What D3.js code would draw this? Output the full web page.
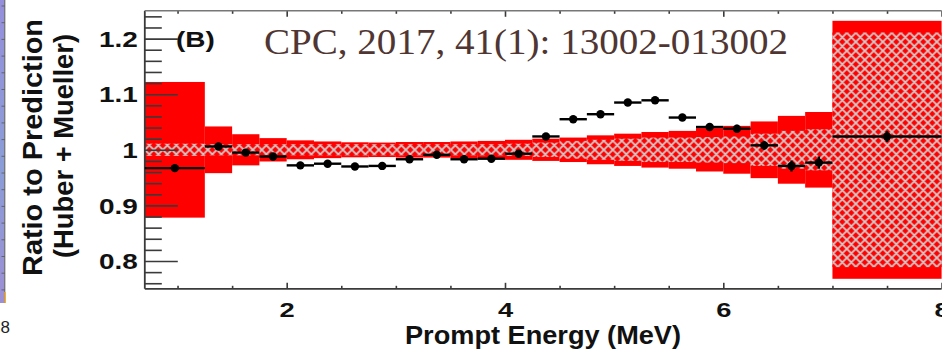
<!DOCTYPE html>
<html><head><meta charset="utf-8">
<script src="https://cdn.jsdelivr.net/npm/d3@7/dist/d3.min.js"></script>
<style>
html,body{margin:0;padding:0;background:#fff;overflow:hidden;}
svg{display:block;}
</style></head><body>
<svg id="chart" width="942" height="351"></svg>
<script>
// Prompt-energy bin edges (MeV)
const binEdges = [0.7, 1.25, 1.5, 1.75, 2.0, 2.25, 2.5, 2.75, 3.0, 3.25, 3.5, 3.75, 4.0,
                  4.25, 4.5, 4.75, 5.0, 5.25, 5.5, 5.75, 6.0, 6.25, 6.5, 6.75, 7.0, 8.0];
// Measured ratio to the Huber + Mueller prediction, one per bin
const ratio = [0.967, 1.006, 0.995, 0.988, 0.972, 0.975, 0.970, 0.971, 0.983, 0.991, 0.983, 0.984,
               0.993, 1.024, 1.055, 1.064, 1.085, 1.089, 1.058, 1.041, 1.038, 1.008, 0.971, 0.977, 1.024];
// Statistical uncertainty of each point
const statErr = [0.006, 0.005, 0.004, 0.004, 0.004, 0.004, 0.004, 0.004, 0.004, 0.004, 0.004, 0.004,
                 0.005, 0.005, 0.005, 0.005, 0.006, 0.006, 0.006, 0.007, 0.007, 0.008, 0.010, 0.011, 0.010];
// Total model uncertainty (solid band, half width)
const modelErr = [0.122, 0.042, 0.028, 0.021, 0.017, 0.015, 0.0135, 0.013, 0.014, 0.014, 0.015, 0.016,
                  0.018, 0.020, 0.022, 0.026, 0.029, 0.032, 0.034, 0.039, 0.043, 0.051, 0.061, 0.068, 0.232];
// Reactor-related part of the uncertainty (hatched band, half width)
const reactorErr = [0.011, 0.010, 0.010, 0.010, 0.010, 0.010, 0.010, 0.010, 0.010, 0.010, 0.010, 0.010,
                    0.011, 0.013, 0.016, 0.018, 0.020, 0.022, 0.022, 0.023, 0.024, 0.029, 0.034, 0.037, 0.211];
// Axis ticks
const xMajorTicks = [2, 4, 6, 8];
const xMinorTicks = [1, 1.5, 2.5, 3, 3.5, 4.5, 5, 5.5, 6.5, 7, 7.5];
const yMajorTicks = [0.8, 0.9, 1.0, 1.1, 1.2];
const yMinorTicks = [0.76, 0.78, 0.82, 0.84, 0.86, 0.88, 0.92, 0.94, 0.96, 0.98, 1.02, 1.04, 1.06, 1.08,
                     1.12, 1.14, 1.16, 1.18, 1.22, 1.24];
const yTickLabels = {0.8: "0.8", 0.9: "0.9", 1.0: "1", 1.1: "1.1", 1.2: "1.2"};

const svg = d3.select("#chart");
const x = d3.scaleLinear().domain([0.7, 8]).range([144.8, 941.6]);
const y = d3.scaleLinear().domain([0.75, 1.25]).range([288.8, 10.8]);

const bins = ratio.map((r, i) => ({
  lo: binEdges[i], hi: binEdges[i + 1], mid: (binEdges[i] + binEdges[i + 1]) / 2,
  r, stat: statErr[i], model: modelErr[i], reactor: reactorErr[i]
}));

// Cross-hatch fill
const defs = svg.append("defs");
const pat = defs.append("pattern").attr("id", "xhatch")
  .attr("patternUnits", "userSpaceOnUse").attr("width", 9).attr("height", 9)
  .attr("patternTransform", `translate(${x(0.7)},${y(1.0)})`);
pat.append("rect").attr("width", 9).attr("height", 9).attr("fill", "#ff0000");
pat.append("path")
  .attr("d", "M-2,2 L2,-2 M0,9 L9,0 M7,11 L11,7 M-2,7 L2,11 M0,0 L9,9 M7,-2 L11,2")
  .attr("stroke", "#d2cbcb").attr("stroke-width", 1.8).attr("fill", "none");

// Left-edge strip of the neighbouring panel
const grad = defs.append("linearGradient").attr("id", "strip").attr("x1", 0).attr("x2", 0).attr("y1", 0).attr("y2", 1);
grad.append("stop").attr("offset", "0%").attr("stop-color", "#968fdb");
grad.append("stop").attr("offset", "55%").attr("stop-color", "#8a9dd6");
grad.append("stop").attr("offset", "100%").attr("stop-color", "#9c8fd4");
svg.append("rect").attr("x", 0).attr("y", 0).attr("width", 4.5).attr("height", 303).attr("fill", "url(#strip)");
svg.append("line").attr("x1", 4.8).attr("x2", 4.8).attr("y1", 0).attr("y2", 303).attr("stroke", "#555").attr("stroke-width", 1);
svg.append("g").selectAll("line").data(d3.range(18)).join("line")
  .attr("x1", 1.5).attr("x2", 4.8).attr("y1", i => 6 + i * 16.7).attr("y2", i => 6 + i * 16.7)
  .attr("stroke", "#555").attr("stroke-width", 0.8);
svg.append("line").attr("x1", 4.8).attr("x2", 4.8).attr("y1", 292).attr("y2", 303).attr("stroke", "#e09a2a").attr("stroke-width", 1.5);
svg.append("text").attr("x", 0.5).attr("y", 333).attr("text-anchor", "start")
  .attr("font-family", "Liberation Sans, Arial, sans-serif").attr("font-size", 17).attr("fill", "#222").text("8");

// Solid model-uncertainty band
svg.append("g").selectAll("rect").data(bins).join("rect")
  .attr("x", d => x(d.lo)).attr("width", d => x(d.hi) - x(d.lo))
  .attr("y", d => y(1 + d.model)).attr("height", d => y(1 - d.model) - y(1 + d.model))
  .attr("fill", "#ff0000");

// Hatched reactor band
svg.append("g").selectAll("rect").data(bins).join("rect")
  .attr("x", d => x(d.lo)).attr("width", d => x(d.hi) - x(d.lo))
  .attr("y", d => y(1 + d.reactor)).attr("height", d => y(1 - d.reactor) - y(1 + d.reactor))
  .attr("fill", "url(#xhatch)");

// Axes
const axisColor = "#3a3a3a";
function styleAxis(g) {
  g.select(".domain").remove();
  g.selectAll("line").attr("stroke", axisColor).attr("stroke-width", 1.6);
}
// y ticks pointing into the frame
svg.append("g").attr("transform", `translate(${x(0.7)},0)`)
  .call(d3.axisRight(y).tickValues(yMinorTicks).tickSize(17).tickFormat("")).call(styleAxis);
svg.append("g").attr("transform", `translate(${x(0.7)},0)`)
  .call(d3.axisRight(y).tickValues(yMajorTicks).tickSize(33).tickFormat("")).call(styleAxis);
// y labels
const yLab = svg.append("g").attr("transform", `translate(${x(0.7)},0)`)
  .call(d3.axisLeft(y).tickValues(yMajorTicks).tickSize(0).tickFormat(v => yTickLabels[v]));
yLab.select(".domain").remove();
yLab.selectAll("text").attr("font-family", "Liberation Sans, Arial, sans-serif").attr("font-weight", "bold")
  .attr("font-size", 21.5).attr("fill", "#111").attr("dy", "0.36em")
  .attr("x", -7 / 1.3).attr("transform", "scale(1.3,1)");

// x ticks: bottom (pointing up) and top (pointing down)
svg.append("g").attr("transform", `translate(0,${y(0.75)})`)
  .call(d3.axisTop(x).tickValues(xMinorTicks).tickSize(3).tickFormat("")).call(styleAxis);
svg.append("g").attr("transform", `translate(0,${y(0.75)})`)
  .call(d3.axisTop(x).tickValues(xMajorTicks).tickSize(6).tickFormat("")).call(styleAxis);
svg.append("g").attr("transform", `translate(0,${y(1.25)})`)
  .call(d3.axisBottom(x).tickValues(xMinorTicks).tickSize(3).tickFormat("")).call(styleAxis);
svg.append("g").attr("transform", `translate(0,${y(1.25)})`)
  .call(d3.axisBottom(x).tickValues(xMajorTicks).tickSize(6).tickFormat("")).call(styleAxis);
const xLab = svg.append("g").attr("transform", `translate(0,${y(0.75)})`)
  .call(d3.axisBottom(x).tickValues(xMajorTicks).tickSize(0).tickFormat(d3.format("d")));
xLab.select(".domain").remove();
xLab.selectAll("text").attr("font-family", "Liberation Sans, Arial, sans-serif").attr("font-weight", "bold")
  .attr("font-size", 21).attr("fill", "#111").attr("dy", 0).attr("y", 27.8).attr("transform", "scale(1.3,1)")
  .attr("x", 0);

// frame lines
svg.append("line").attr("x1", x(0.7)).attr("x2", x(0.7)).attr("y1", y(1.25)).attr("y2", y(0.75))
  .attr("stroke", axisColor).attr("stroke-width", 1.8);
svg.append("line").attr("x1", x(0.7)).attr("x2", x(8)).attr("y1", y(0.75)).attr("y2", y(0.75))
  .attr("stroke", axisColor).attr("stroke-width", 1.8);
svg.append("line").attr("x1", x(0.7)).attr("x2", x(8)).attr("y1", y(1.25)).attr("y2", y(1.25))
  .attr("stroke", "#777").attr("stroke-width", 1.4);

// Data points with bin-width and statistical error bars
const pts = svg.append("g");
pts.selectAll("line.h").data(bins).join("line").attr("class", "h")
  .attr("x1", d => x(d.lo)).attr("x2", d => x(d.hi)).attr("y1", d => y(d.r)).attr("y2", d => y(d.r))
  .attr("stroke", "#000").attr("stroke-width", 2.4);
pts.selectAll("line.v").data(bins).join("line").attr("class", "v")
  .attr("x1", d => x(d.mid)).attr("x2", d => x(d.mid)).attr("y1", d => y(d.r + d.stat)).attr("y2", d => y(d.r - d.stat))
  .attr("stroke", "#000").attr("stroke-width", 2.4);
pts.selectAll("circle").data(bins).join("circle")
  .attr("cx", d => x(d.mid)).attr("cy", d => y(d.r)).attr("r", 4.2).attr("fill", "#000");

// Labels
const sans = "Liberation Sans, Arial, Helvetica, sans-serif";
svg.append("text").attr("x", 176 / 1.3).attr("y", 47).attr("transform", "scale(1.3,1)")
  .attr("font-family", sans).attr("font-weight", "bold").attr("font-size", 21.5).attr("fill", "#111").text("(B)");
svg.append("text").attr("x", 264).attr("y", 54).attr("textLength", 524).attr("lengthAdjust", "spacingAndGlyphs")
  .attr("font-family", "Liberation Serif, Times New Roman, serif").attr("font-size", 35).attr("fill", "#503632")
  .text("CPC, 2017, 41(1): 13002-013002");
svg.append("text").attr("x", 405).attr("y", 344).attr("textLength", 276).attr("lengthAdjust", "spacingAndGlyphs")
  .attr("font-family", sans).attr("font-weight", "bold").attr("font-size", 25).attr("fill", "#111")
  .text("Prompt Energy (MeV)");
svg.append("text").attr("transform", "translate(41.5,276) rotate(-90)").attr("textLength", 257).attr("lengthAdjust", "spacingAndGlyphs")
  .attr("font-family", sans).attr("font-weight", "bold").attr("font-size", 27.5).attr("fill", "#111")
  .text("Ratio to Prediction");
svg.append("text").attr("transform", "translate(73,258) rotate(-90)").attr("textLength", 224).attr("lengthAdjust", "spacingAndGlyphs")
  .attr("font-family", sans).attr("font-weight", "bold").attr("font-size", 27.5).attr("fill", "#111")
  .text("(Huber + Mueller)");
</script>
</body></html>
